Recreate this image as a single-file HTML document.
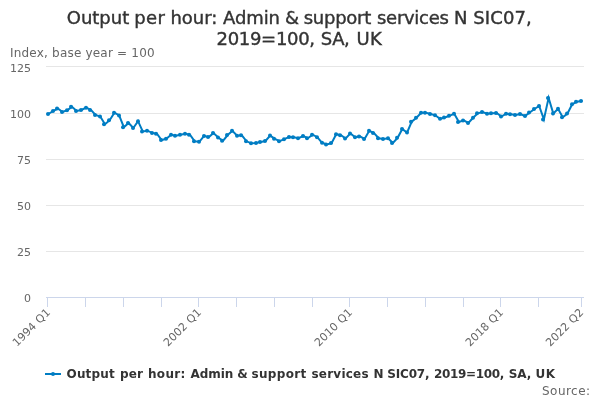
<!DOCTYPE html>
<html lang="en">
<head>
<meta charset="utf-8">
<title>Output per hour: Admin &amp; support services N SIC07, 2019=100, SA, UK</title>
<style>
html,body{margin:0;padding:0;background:#fff;}
body{width:600px;height:400px;overflow:hidden;}
svg{display:block;font-family:"DejaVu Sans","Liberation Sans",Verdana,sans-serif;}
</style>
</head>
<body>
<svg width="600" height="400" viewBox="0 0 600 400">
<rect x="0" y="0" width="600" height="400" fill="#ffffff"/>
<g fill="none" stroke="#e6e6e6" stroke-width="1"><path d="M 46 66.5 L 584 66.5"/><path d="M 46 113.5 L 584 113.5"/><path d="M 46 159.5 L 584 159.5"/><path d="M 46 205.5 L 584 205.5"/><path d="M 46 251.5 L 584 251.5"/></g>
<g fill="none" stroke="#ccd6eb" stroke-width="1"><path d="M 47.5 297 L 47.5 307"/><path d="M 85.5 297 L 85.5 307"/><path d="M 123.5 297 L 123.5 307"/><path d="M 161.5 297 L 161.5 307"/><path d="M 198.5 297 L 198.5 307"/><path d="M 236.5 297 L 236.5 307"/><path d="M 274.5 297 L 274.5 307"/><path d="M 312.5 297 L 312.5 307"/><path d="M 349.5 297 L 349.5 307"/><path d="M 387.5 297 L 387.5 307"/><path d="M 425.5 297 L 425.5 307"/><path d="M 463.5 297 L 463.5 307"/><path d="M 500.5 297 L 500.5 307"/><path d="M 538.5 297 L 538.5 307"/><path d="M 581.5 297 L 581.5 307"/><path d="M 46 297.5 L 584 297.5"/></g>
<g>
<path d="M 48.36 114.00 L 53.08 111.00 L 57.80 108.50 L 62.52 112.00 L 67.24 110.30 L 71.96 106.70 L 76.68 111.00 L 81.40 110.00 L 86.11 107.70 L 90.83 109.90 L 95.55 115.00 L 100.27 116.50 L 104.99 124.20 L 109.71 120.20 L 114.43 112.70 L 119.15 115.50 L 123.87 127.20 L 128.59 123.00 L 133.31 128.00 L 138.03 121.20 L 142.75 131.50 L 147.47 130.70 L 152.18 132.90 L 156.90 133.70 L 161.62 140.00 L 166.34 138.80 L 171.06 134.80 L 175.78 135.80 L 180.50 134.70 L 185.22 133.70 L 189.94 134.70 L 194.66 141.30 L 199.38 141.80 L 204.10 135.90 L 208.82 137.10 L 213.54 133.00 L 218.25 137.50 L 222.97 140.80 L 227.69 135.00 L 232.41 130.80 L 237.13 135.80 L 241.85 135.30 L 246.57 141.30 L 251.29 143.30 L 256.01 143.00 L 260.73 141.90 L 265.45 141.00 L 270.17 135.60 L 274.89 138.80 L 279.61 141.20 L 284.32 139.20 L 289.04 137.10 L 293.76 137.20 L 298.48 138.20 L 303.20 136.00 L 307.92 138.20 L 312.64 134.70 L 317.36 137.20 L 322.08 142.80 L 326.80 144.50 L 331.52 143.10 L 336.24 134.20 L 340.96 135.20 L 345.68 138.50 L 350.40 133.40 L 355.11 137.20 L 359.83 136.40 L 364.55 138.90 L 369.27 130.80 L 373.99 133.10 L 378.71 138.20 L 383.43 139.00 L 388.15 138.20 L 392.87 143.00 L 397.59 137.80 L 402.31 129.00 L 407.03 132.60 L 411.75 121.70 L 416.47 117.70 L 421.18 112.80 L 425.90 112.80 L 430.62 114.00 L 435.34 115.30 L 440.06 118.80 L 444.78 117.50 L 449.50 115.80 L 454.22 113.70 L 458.94 122.00 L 463.66 120.40 L 468.38 123.00 L 473.10 117.80 L 477.82 113.30 L 482.54 112.00 L 487.25 113.80 L 491.97 113.30 L 496.69 113.00 L 501.41 116.50 L 506.13 113.70 L 510.85 114.20 L 515.57 114.90 L 520.29 114.10 L 525.01 116.00 L 529.73 112.50 L 534.45 109.00 L 539.17 106.00 L 543.89 119.40 L 548.61 97.90 L 553.32 113.50 L 558.04 108.80 L 562.76 117.20 L 567.48 113.50 L 572.20 104.30 L 576.92 101.70 L 581.64 101.00" fill="none" stroke="#007dc3" stroke-width="2" stroke-linejoin="miter" stroke-linecap="round"/>
<g fill="#007dc3"><circle cx="48" cy="114.00" r="2"/><circle cx="53" cy="111.00" r="2"/><circle cx="57" cy="108.50" r="2"/><circle cx="62" cy="112.00" r="2"/><circle cx="67" cy="110.30" r="2"/><circle cx="71" cy="106.70" r="2"/><circle cx="76" cy="111.00" r="2"/><circle cx="81" cy="110.00" r="2"/><circle cx="86" cy="107.70" r="2"/><circle cx="90" cy="109.90" r="2"/><circle cx="95" cy="115.00" r="2"/><circle cx="100" cy="116.50" r="2"/><circle cx="104" cy="124.20" r="2"/><circle cx="109" cy="120.20" r="2"/><circle cx="114" cy="112.70" r="2"/><circle cx="119" cy="115.50" r="2"/><circle cx="123" cy="127.20" r="2"/><circle cx="128" cy="123.00" r="2"/><circle cx="133" cy="128.00" r="2"/><circle cx="138" cy="121.20" r="2"/><circle cx="142" cy="131.50" r="2"/><circle cx="147" cy="130.70" r="2"/><circle cx="152" cy="132.90" r="2"/><circle cx="156" cy="133.70" r="2"/><circle cx="161" cy="140.00" r="2"/><circle cx="166" cy="138.80" r="2"/><circle cx="171" cy="134.80" r="2"/><circle cx="175" cy="135.80" r="2"/><circle cx="180" cy="134.70" r="2"/><circle cx="185" cy="133.70" r="2"/><circle cx="189" cy="134.70" r="2"/><circle cx="194" cy="141.30" r="2"/><circle cx="199" cy="141.80" r="2"/><circle cx="204" cy="135.90" r="2"/><circle cx="208" cy="137.10" r="2"/><circle cx="213" cy="133.00" r="2"/><circle cx="218" cy="137.50" r="2"/><circle cx="222" cy="140.80" r="2"/><circle cx="227" cy="135.00" r="2"/><circle cx="232" cy="130.80" r="2"/><circle cx="237" cy="135.80" r="2"/><circle cx="241" cy="135.30" r="2"/><circle cx="246" cy="141.30" r="2"/><circle cx="251" cy="143.30" r="2"/><circle cx="256" cy="143.00" r="2"/><circle cx="260" cy="141.90" r="2"/><circle cx="265" cy="141.00" r="2"/><circle cx="270" cy="135.60" r="2"/><circle cx="274" cy="138.80" r="2"/><circle cx="279" cy="141.20" r="2"/><circle cx="284" cy="139.20" r="2"/><circle cx="289" cy="137.10" r="2"/><circle cx="293" cy="137.20" r="2"/><circle cx="298" cy="138.20" r="2"/><circle cx="303" cy="136.00" r="2"/><circle cx="307" cy="138.20" r="2"/><circle cx="312" cy="134.70" r="2"/><circle cx="317" cy="137.20" r="2"/><circle cx="322" cy="142.80" r="2"/><circle cx="326" cy="144.50" r="2"/><circle cx="331" cy="143.10" r="2"/><circle cx="336" cy="134.20" r="2"/><circle cx="340" cy="135.20" r="2"/><circle cx="345" cy="138.50" r="2"/><circle cx="350" cy="133.40" r="2"/><circle cx="355" cy="137.20" r="2"/><circle cx="359" cy="136.40" r="2"/><circle cx="364" cy="138.90" r="2"/><circle cx="369" cy="130.80" r="2"/><circle cx="373" cy="133.10" r="2"/><circle cx="378" cy="138.20" r="2"/><circle cx="383" cy="139.00" r="2"/><circle cx="388" cy="138.20" r="2"/><circle cx="392" cy="143.00" r="2"/><circle cx="397" cy="137.80" r="2"/><circle cx="402" cy="129.00" r="2"/><circle cx="407" cy="132.60" r="2"/><circle cx="411" cy="121.70" r="2"/><circle cx="416" cy="117.70" r="2"/><circle cx="421" cy="112.80" r="2"/><circle cx="425" cy="112.80" r="2"/><circle cx="430" cy="114.00" r="2"/><circle cx="435" cy="115.30" r="2"/><circle cx="440" cy="118.80" r="2"/><circle cx="444" cy="117.50" r="2"/><circle cx="449" cy="115.80" r="2"/><circle cx="454" cy="113.70" r="2"/><circle cx="458" cy="122.00" r="2"/><circle cx="463" cy="120.40" r="2"/><circle cx="468" cy="123.00" r="2"/><circle cx="473" cy="117.80" r="2"/><circle cx="477" cy="113.30" r="2"/><circle cx="482" cy="112.00" r="2"/><circle cx="487" cy="113.80" r="2"/><circle cx="491" cy="113.30" r="2"/><circle cx="496" cy="113.00" r="2"/><circle cx="501" cy="116.50" r="2"/><circle cx="506" cy="113.70" r="2"/><circle cx="510" cy="114.20" r="2"/><circle cx="515" cy="114.90" r="2"/><circle cx="520" cy="114.10" r="2"/><circle cx="525" cy="116.00" r="2"/><circle cx="529" cy="112.50" r="2"/><circle cx="534" cy="109.00" r="2"/><circle cx="539" cy="106.00" r="2"/><circle cx="543" cy="119.40" r="2"/><circle cx="548" cy="97.90" r="2"/><circle cx="553" cy="113.50" r="2"/><circle cx="558" cy="108.80" r="2"/><circle cx="562" cy="117.20" r="2"/><circle cx="567" cy="113.50" r="2"/><circle cx="572" cy="104.30" r="2"/><circle cx="576" cy="101.70" r="2"/><circle cx="581" cy="101.00" r="2"/></g>
</g>
<text y="24" font-size="18px" fill="#333333" stroke="#333333" stroke-width="0.4"><tspan x="66.80" letter-spacing="-0.020">Output </tspan><tspan x="134.20" letter-spacing="0.400">per </tspan><tspan x="170.40" letter-spacing="0.000">hour: </tspan><tspan x="223.05" letter-spacing="-0.100">Admin </tspan><tspan x="285.00" letter-spacing="0.000">&amp; </tspan><tspan x="303.70" letter-spacing="-0.258">support </tspan><tspan x="377.00" letter-spacing="-0.286">services </tspan><tspan x="453.95" letter-spacing="0.000">N </tspan><tspan x="473.25" letter-spacing="0.120">SIC07,</tspan></text>
<text y="45" font-size="18px" fill="#333333" stroke="#333333" stroke-width="0.4"><tspan x="216.55" letter-spacing="-0.312">2019=100, </tspan><tspan x="320.75" letter-spacing="-0.375">SA, </tspan><tspan x="356.50" letter-spacing="0.400">UK</tspan></text>
<text x="10" y="57" font-size="12px" fill="#666666" letter-spacing="0.2">Index, base year = 100</text>
<g font-size="11px" fill="#666666"><text x="31" y="72" text-anchor="end">125</text><text x="31" y="118" text-anchor="end">100</text><text x="31" y="164" text-anchor="end">75</text><text x="31" y="210" text-anchor="end">50</text><text x="31" y="256" text-anchor="end">25</text><text x="31" y="302" text-anchor="end">0</text></g>
<g font-size="11px" fill="#666666" word-spacing="0.5" letter-spacing="0.05"><text x="50.96" y="313" text-anchor="end" transform="rotate(-45 50.96 313)">1994 Q1</text><text x="201.98" y="313" text-anchor="end" transform="rotate(-45 201.98 313)">2002 Q1</text><text x="353.00" y="313" text-anchor="end" transform="rotate(-45 353.00 313)">2010 Q1</text><text x="504.01" y="313" text-anchor="end" transform="rotate(-45 504.01 313)">2018 Q1</text><text x="584.24" y="313" text-anchor="end" transform="rotate(-45 584.24 313)">2022 Q2</text></g>
<g>
<path d="M 45 374 L 61 374" stroke="#007dc3" stroke-width="2" fill="none"/>
<circle cx="53" cy="374" r="2" fill="#007dc3"/>
<text y="378" font-size="12px" font-weight="bold" fill="#333333"><tspan x="66.50" letter-spacing="0.180">Output </tspan><tspan x="120.00" letter-spacing="0.125">per </tspan><tspan x="148.00" letter-spacing="0.312">hour: </tspan><tspan x="190.60" letter-spacing="-0.112">Admin </tspan><tspan x="237.25" letter-spacing="0.000">&amp; </tspan><tspan x="251.50" letter-spacing="0.333">support </tspan><tspan x="311.50" letter-spacing="0.214">services </tspan><tspan x="373.40" letter-spacing="0.000">N </tspan><tspan x="387.25" letter-spacing="-0.170">SIC07, </tspan><tspan x="434.00" letter-spacing="-0.344">2019=100, </tspan><tspan x="508.85" letter-spacing="-0.175">SA, </tspan><tspan x="535.60" letter-spacing="0.400">UK</tspan></text>
</g>
<text x="542.05" y="395" font-size="12px" fill="#666666" letter-spacing="0.45">Source:</text>
</svg>
</body>
</html>
